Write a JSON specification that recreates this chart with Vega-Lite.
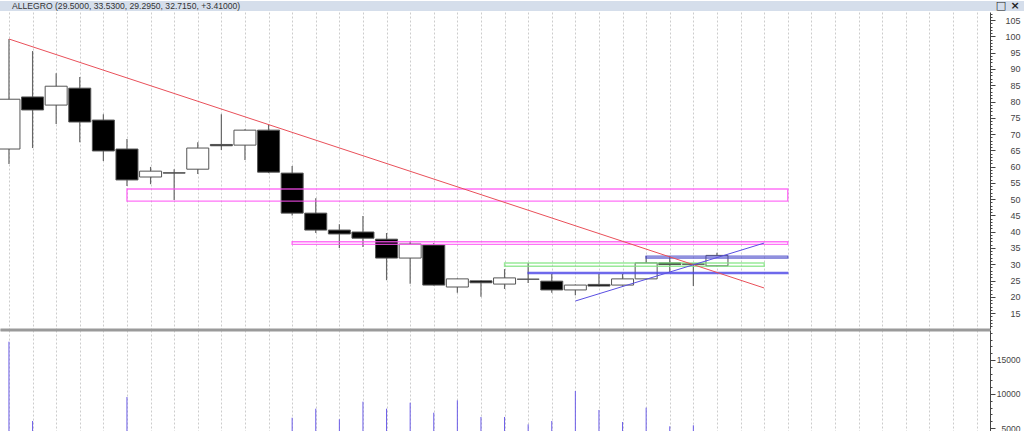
{
  "$schema": "https://vega.github.io/schema/vega-lite/v6.json",
  "padding": 0,
  "background": "white",
  "spacing": 1,
  "bounds": "flush",
  "config": {
    "view": {"stroke": null},
    "font": "Liberation Sans",
    "axis": {"labelFont": "Liberation Sans"}
  },
  "datasets": {
    "candles": [
      {"i": 0, "o": 65.4, "h": 99.2, "l": 60.8, "c": 80.7},
      {"i": 1, "o": 81.4, "h": 95.5, "l": 65.7, "c": 77.4},
      {"i": 2, "o": 78.9, "h": 88.7, "l": 73.1, "c": 84.7},
      {"i": 3, "o": 84.1, "h": 87.5, "l": 67.5, "c": 73.7},
      {"i": 4, "o": 74.3, "h": 76.1, "l": 61.7, "c": 64.8},
      {"i": 5, "o": 65.4, "h": 68.5, "l": 54.0, "c": 55.9},
      {"i": 6, "o": 56.8, "h": 59.9, "l": 54.6, "c": 58.6},
      {"i": 7, "o": 58.1, "h": 59.2, "l": 49.7, "c": 58.0},
      {"i": 8, "o": 59.2, "h": 67.5, "l": 57.7, "c": 65.7},
      {"i": 9, "o": 66.8, "h": 76.1, "l": 65.1, "c": 66.4},
      {"i": 10, "o": 66.6, "h": 71.5, "l": 62.0, "c": 71.2},
      {"i": 11, "o": 71.2, "h": 72.8, "l": 58.0, "c": 58.3},
      {"i": 12, "o": 58.0, "h": 60.2, "l": 45.0, "c": 45.7},
      {"i": 13, "o": 45.7, "h": 50.3, "l": 39.6, "c": 40.5},
      {"i": 14, "o": 40.5, "h": 42.3, "l": 35.0, "c": 39.3},
      {"i": 15, "o": 39.9, "h": 44.8, "l": 35.3, "c": 38.0},
      {"i": 16, "o": 37.7, "h": 39.6, "l": 25.1, "c": 31.9},
      {"i": 17, "o": 31.9, "h": 37.1, "l": 24.0, "c": 36.2},
      {"i": 18, "o": 35.9, "h": 36.5, "l": 23.5, "c": 23.6},
      {"i": 19, "o": 23.0, "h": 25.6, "l": 21.2, "c": 25.5},
      {"i": 20, "o": 24.9, "h": 25.0, "l": 20.0, "c": 24.3},
      {"i": 21, "o": 23.9, "h": 28.5, "l": 22.4, "c": 25.8},
      {"i": 22, "o": 25.4, "h": 30.4, "l": 24.2, "c": 25.4},
      {"i": 23, "o": 24.8, "h": 27.0, "l": 21.2, "c": 22.1},
      {"i": 24, "o": 22.1, "h": 23.8, "l": 20.5, "c": 23.6},
      {"i": 25, "o": 23.8, "h": 27.0, "l": 23.2, "c": 23.3},
      {"i": 26, "o": 23.6, "h": 27.0, "l": 23.4, "c": 25.5},
      {"i": 27, "o": 25.5, "h": 32.5, "l": 25.3, "c": 30.4},
      {"i": 28, "o": 30.4, "h": 32.5, "l": 27.6, "c": 29.9},
      {"i": 29, "o": 30.1, "h": 30.1, "l": 23.3, "c": 30.0},
      {"i": 30, "o": 29.5, "h": 33.53, "l": 29.295, "c": 32.715}
    ],
    "volume": [
      {"i": 0, "v": 17690}, {"i": 1, "v": 6030}, {"i": 5, "v": 9560},
      {"i": 12, "v": 6510}, {"i": 13, "v": 7840}, {"i": 14, "v": 6280},
      {"i": 15, "v": 8870}, {"i": 16, "v": 7840}, {"i": 17, "v": 8720},
      {"i": 18, "v": 7250}, {"i": 19, "v": 9070}, {"i": 20, "v": 6620},
      {"i": 21, "v": 6620}, {"i": 22, "v": 5540}, {"i": 23, "v": 6030},
      {"i": 24, "v": 10440}, {"i": 25, "v": 7650}, {"i": 26, "v": 5880},
      {"i": 27, "v": 7990}, {"i": 28, "v": 5250}, {"i": 29, "v": 5400}
    ],
    "boxes": [
      {"kind": "m1", "i": 5, "i2": 33, "p": 49.4, "p2": 53.1},
      {"kind": "m2", "i": 12, "i2": 33, "p": 36.1, "p2": 36.9},
      {"kind": "green", "i": 21, "i2": 32, "p": 29.4, "p2": 30.4},
      {"kind": "navy", "i": 27, "i2": 33, "p": 31.9, "p2": 32.5},
      {"kind": "blue", "i": 22, "i2": 33, "p": 27.1, "p2": 27.5}
    ],
    "lines": [
      {"name": "down", "i": 0, "p": 99.2},
      {"name": "down", "i": 32, "p": 22.7},
      {"name": "up", "i": 24, "p": 18.7},
      {"name": "up", "i": 32, "p": 36.5}
    ]
  },
  "vconcat": [
    {
      "width": 1024,
      "height": 10,
      "view": {"fill": "#d5deeb", "stroke": null},
      "layer": [
        {
          "data": {"values": [{"pos": 12, "label": "ALLEGRO (29.5000, 33.5300, 29.2950, 32.7150, +3.41000)"}]},
          "mark": {"type": "text", "align": "left", "baseline": "middle", "fontSize": 8.6, "color": "#333333"},
          "encoding": {
            "x": {"field": "pos", "type": "quantitative", "scale": {"domain": [0, 1024]}, "axis": null},
            "text": {"field": "label"}
          }
        },
        {
          "data": {"values": [{"pos": 1001, "label": "□"}, {"pos": 1015, "label": "×"}]},
          "mark": {"type": "text", "align": "center", "baseline": "middle", "fontSize": 11, "fontWeight": "bold", "font": "DejaVu Sans", "color": "#222222"},
          "encoding": {
            "x": {"field": "pos", "type": "quantitative", "scale": {"domain": [0, 1024]}, "axis": null},
            "text": {"field": "label"}
          }
        }
      ]
    },
    {
      "width": 990,
      "height": 317,
      "resolve": {"axis": {"y": "independent"}},
      "encoding": {
        "x": {
          "field": "i",
          "type": "quantitative",
          "scale": {"domain": [-0.38, 41.57], "nice": false, "zero": false, "padding": 0},
          "axis": {
            "values": [0,1,2,3,4,5,6,7,8,9,10,11,12,13,14,15,16,17,18,19,20,21,22,23,24,25,26,27,28,29,30,31,32,33,34,35,36,37,38,39,40,41],
            "grid": true, "gridDash": [2, 2], "gridColor": "#cccccc", "gridWidth": 1,
            "labels": false, "ticks": false, "domain": true, "domainColor": "#9a9a9a", "domainWidth": 2,
            "title": null
          }
        }
      },
      "layer": [
        {
          "data": {"name": "candles"},
          "mark": {"type": "rule", "color": "#666666", "strokeWidth": 1.2, "clip": true},
          "encoding": {
            "y": {
              "field": "l",
              "type": "quantitative",
              "scale": {"domain": [10.1, 107.5], "nice": false, "zero": false},
              "axis": {
                "orient": "right",
                "values": [11,12,13,14,15,16,17,18,19,20,21,22,23,24,25,26,27,28,29,30,31,32,33,34,35,36,37,38,39,40,41,42,43,44,45,46,47,48,49,50,51,52,53,54,55,56,57,58,59,60,61,62,63,64,65,66,67,68,69,70,71,72,73,74,75,76,77,78,79,80,81,82,83,84,85,86,87,88,89,90,91,92,93,94,95,96,97,98,99,100,101,102,103,104,105,106,107],
                "labelExpr": "datum.value % 5 === 0 ? datum.label : ''",
                "tickSize": {"condition": {"test": "datum.value % 5 === 0", "value": 5}, "value": 2},
                "tickColor": "#444444",
                "domainColor": "#444444",
                "labelColor": "#444444",
                "labelFontSize": 9,
                "labelAlign": "right",
                "labelPadding": 25,
                "labelOverlap": false,
                "grid": false,
                "title": null
              }
            },
            "y2": {"field": "h"}
          }
        },
        {
          "data": {"name": "candles"},
          "mark": {"type": "bar", "size": 22, "stroke": "#555555", "strokeWidth": 1, "clip": true},
          "encoding": {
            "y": {"field": "o", "type": "quantitative", "scale": {"domain": [10.1, 107.5], "nice": false, "zero": false}, "axis": null},
            "y2": {"field": "c"},
            "fill": {"condition": {"test": "datum.c >= datum.o", "value": "#ffffff"}, "value": "#000000"}
          }
        },
        {
          "data": {"name": "boxes"},
          "mark": {"type": "rect", "fill": null, "strokeWidth": 1.4, "strokeOpacity": 0.8, "clip": true},
          "encoding": {
            "x2": {"field": "i2"},
            "y": {"field": "p", "type": "quantitative", "scale": {"domain": [10.1, 107.5], "nice": false, "zero": false}, "axis": null},
            "y2": {"field": "p2"},
            "stroke": {
              "field": "kind",
              "type": "nominal",
              "scale": {"domain": ["m1", "m2", "green", "navy", "blue"], "range": ["#ff4ff5", "#ff4ff5", "#7fe37f", "#4646c8", "#4a44e6"]},
              "legend": null
            }
          }
        },
        {
          "data": {"name": "lines"},
          "mark": {"type": "line", "strokeWidth": 1, "clip": true},
          "encoding": {
            "y": {"field": "p", "type": "quantitative", "scale": {"domain": [10.1, 107.5], "nice": false, "zero": false}, "axis": null},
            "detail": {"field": "name"},
            "color": {
              "field": "name",
              "type": "nominal",
              "scale": {"domain": ["down", "up"], "range": ["#e9505a", "#5a4fe2"]},
              "legend": null
            }
          }
        }
      ]
    },
    {
      "width": 990,
      "height": 102,
      "data": {"name": "volume"},
      "mark": {"type": "rule", "color": "#6b5ce7", "strokeWidth": 1, "clip": true},
      "encoding": {
        "x": {
          "field": "i",
          "type": "quantitative",
          "scale": {"domain": [-0.38, 41.57], "nice": false, "zero": false, "padding": 0},
          "axis": {
            "orient": "top",
            "values": [0,1,2,3,4,5,6,7,8,9,10,11,12,13,14,15,16,17,18,19,20,21,22,23,24,25,26,27,28,29,30,31,32,33,34,35,36,37,38,39,40,41],
            "grid": true, "gridDash": [2, 2], "gridColor": "#cccccc", "gridWidth": 1,
            "labels": false, "ticks": false, "domain": true, "domainColor": "#9a9a9a", "domainWidth": 2,
            "title": null
          }
        },
        "y": {
          "field": "v",
          "type": "quantitative",
          "scale": {"domain": [4412, 19410], "nice": false, "zero": false},
          "axis": {
            "orient": "right",
            "values": [5000,6000,7000,8000,9000,10000,11000,12000,13000,14000,15000,16000,17000,18000,19000],
            "format": "d",
            "labelExpr": "datum.value % 5000 === 0 ? datum.label : ''",
            "tickSize": {"condition": {"test": "datum.value % 5000 === 0", "value": 5}, "value": 2},
            "tickColor": "#444444",
            "domainColor": "#444444",
            "labelColor": "#444444",
            "labelFontSize": 8.5,
            "labelAlign": "right",
            "labelPadding": 25,
            "labelOverlap": false,
            "grid": false,
            "title": null
          }
        },
        "y2": {"datum": 4412}
      }
    }
  ]
}
